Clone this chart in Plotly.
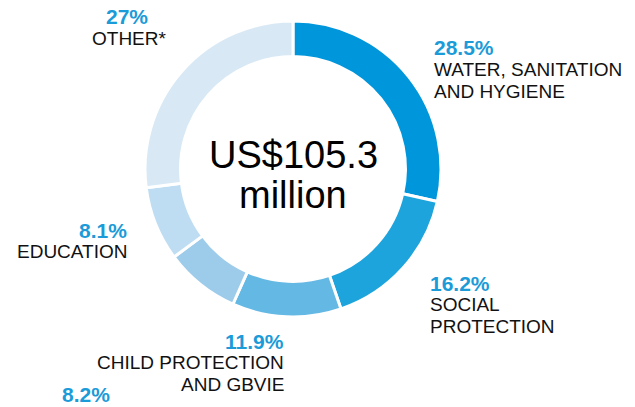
import plotly.graph_objects as go

W, H = 635, 407

# ---- data ----
sectors = ["Water, sanitation and hygiene", "Social protection",
           "Child protection and GBViE", "(unlabelled)", "Education", "Other*"]
shares = [28.5, 16.2, 11.9, 8.2, 8.1, 27]
label_lines = [["WATER, SANITATION", "AND HYGIENE"],
               ["SOCIAL", "PROTECTION"],
               ["CHILD PROTECTION", "AND GBVIE"],
               [],
               ["EDUCATION"],
               ["OTHER*"]]
total_text = ["US$105.3", "million"]

colors = ["#0096DB", "#1DA4DD", "#64B8E4", "#9DCCEA", "#BFDDF2", "#D8E9F5"]
pct_color = "#1B9BD8"
FONT = "Liberation Sans, Arial, sans-serif"

# pixel placement of each label block: (x, y of percent line, xanchor)
label_pos = [(433, 48, "left"), (429, 283, "left"), (285, 341, "right"),
             (61, 394, "left"), (128, 230, "right"), (149, 17, "right")]
line_pos = [(433, "left"), (429, "left"), (285, "right"),
            (61, "left"), (128, "right"), (168, "right")]

fig = go.Figure()
cx, cy, r = 293, 169, 148
fig.add_trace(go.Pie(
    labels=sectors, values=shares, sort=False, direction="clockwise",
    rotation=0, hole=0.76,
    marker=dict(colors=colors, line=dict(color="white", width=3)),
    textinfo="none", hoverinfo="label+percent", showlegend=False,
    domain=dict(x=[(cx - r) / W, (cx + r) / W], y=[1 - (cy + r) / H, 1 - (cy - r) / H]),
))

anns = []
def px(x, y):
    return x / W, 1 - y / H

for v, lines, (x, y, xa), (lx, la) in zip(shares, label_lines, label_pos, line_pos):
    pct = f"{v:g}%"
    ax, ay = px(x, y)
    anns.append(dict(x=ax, y=ay, xref="paper", yref="paper", xanchor=xa, yanchor="middle",
                     text=f"<b>{pct}</b>", showarrow=False, borderpad=0,
                     font=dict(family=FONT, size=21, color=pct_color)))
    for i, ln in enumerate(lines):
        bx, by = px(lx, y + 21 + 22 * i)
        anns.append(dict(x=bx, y=by, xref="paper", yref="paper", xanchor=la, yanchor="middle",
                         text=ln, showarrow=False, borderpad=0,
                         font=dict(family=FONT, size=19, color="#111111")))

for i, t in enumerate(total_text):
    tx, ty = px(cx, 155 + 40 * i)
    anns.append(dict(x=tx, y=ty, xref="paper", yref="paper", xanchor="center", yanchor="middle",
                     text=t, showarrow=False, font=dict(family=FONT, size=38, color="black")))

fig.update_layout(width=W, height=H, margin=dict(l=0, r=0, t=0, b=0),
                  paper_bgcolor="white", plot_bgcolor="white", annotations=anns)
fig.write_html("out.html", config={"displayModeBar": False},
               post_script="document.body.style.margin='0';document.body.style.overflow='hidden';")
